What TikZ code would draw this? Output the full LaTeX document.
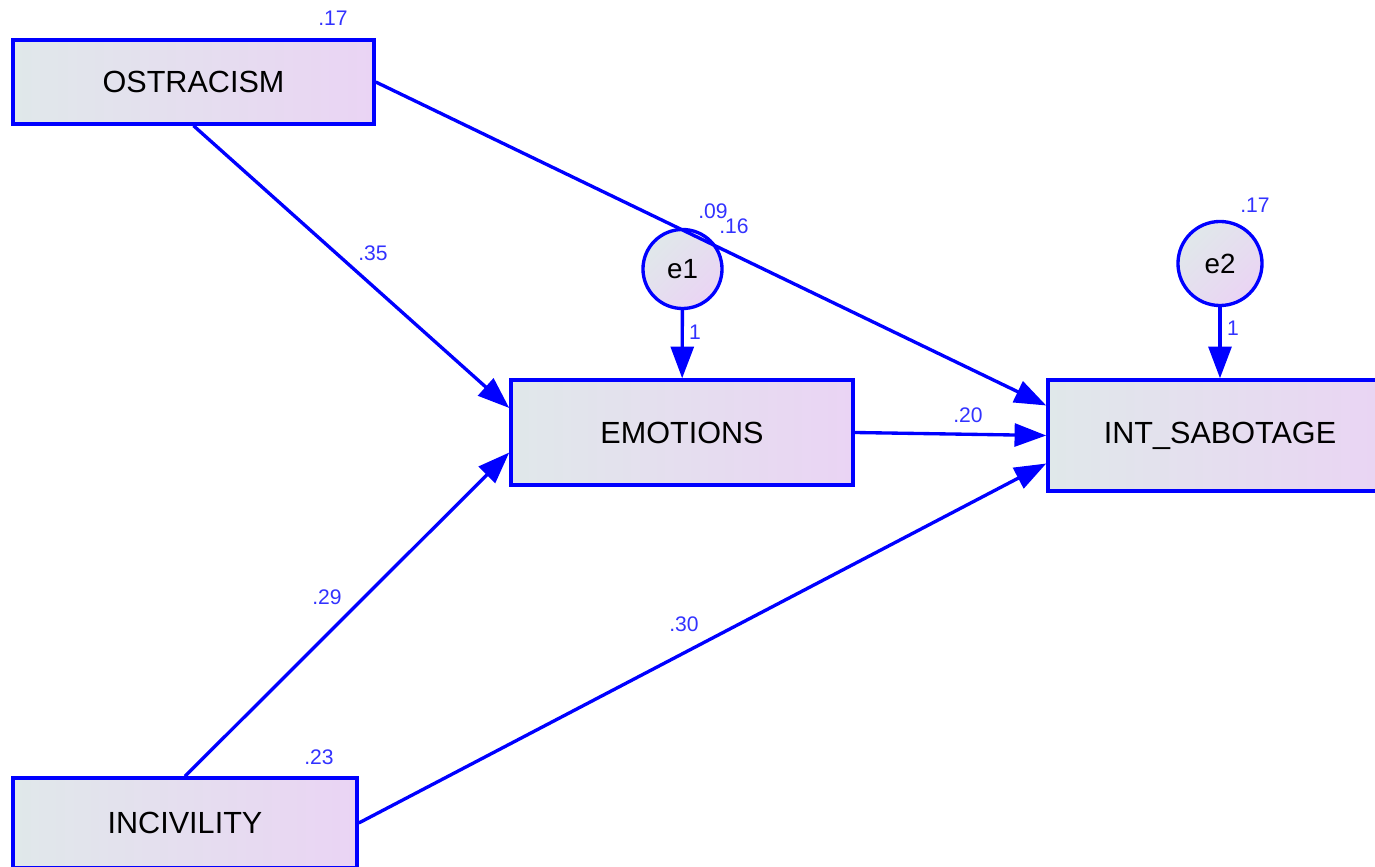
\documentclass[tikz,border=0pt]{standalone}
\usepackage{fontspec}
\setmainfont{Liberation Sans}
\usepackage{tikz}
\usetikzlibrary{arrows.meta}

\definecolor{amosblue}{RGB}{0,0,255}
\definecolor{amoslabel}{RGB}{50,50,255}
\definecolor{boxleft}{RGB}{224,232,234}
\definecolor{boxright}{RGB}{234,212,244}

\tikzset{
  observed/.style={draw=amosblue, line width=0.95pt, left color=boxleft, right color=boxright,
    font=\fontsize{8.7}{10}\selectfont, inner sep=0pt},
  residual/.style={circle, draw=amosblue, line width=0.95pt, left color=boxleft, right color=boxright,
    shading angle=45, font=\fontsize{7.9}{9}\selectfont, inner sep=0pt},
  estimate/.style={text=amoslabel, font=\fontsize{6}{7}\selectfont, inner sep=0pt},
  regress/.style={-{Triangle[length=9pt,width=6.5pt]}, draw=amosblue, line width=0.95pt},
}

\begin{document}
\begin{tikzpicture}[x=0.01cm, y=-0.01cm]
\useasboundingbox (0,0) rectangle (1375,867);
\clip (0,0) rectangle (1375,867);

% observed variables
\node[observed, minimum width=3.61cm, minimum height=0.84cm] (ostr) at (193.5,82) {OSTRACISM};
\node[observed, minimum width=3.42cm, minimum height=1.05cm] (emo) at (682,432.5) {EMOTIONS};
\node[observed, minimum width=3.44cm, minimum height=1.11cm] (sab) at (1220,435.5) {INT\_SABOTAGE};
\node[observed, minimum width=3.44cm, minimum height=0.90cm] (inciv) at (185,823) {INCIVILITY};

% error terms
\node[residual, minimum size=0.79cm] (e1) at (682.5,269) {e1};
\node[residual, minimum size=0.84cm] (e2) at (1220,263.5) {e2};

% paths
\draw[regress] (ostr.south) -- ([yshift=0.245cm]emo.west);
\draw[regress] (ostr.east) -- ([yshift=0.30cm]sab.west);
\draw[regress] (inciv.north) -- ([yshift=-0.2cm]emo.west);
\draw[regress] (inciv.east) -- ([yshift=-0.28cm]sab.west);
\draw[regress] (emo.east) -- (sab.west);
\draw[regress] (e1) -- (emo);
\draw[regress] (e2) -- (sab);

% estimates
\node[estimate] (r-ostr) at (333,18) {.17};
\node[estimate] (r-inciv) at (319,757) {.23};
\node[estimate] (r-emo) at (734,226) {.16};
\node[estimate] (r-sab) at (1255,205) {.17};
\node[estimate] (b-oe) at (373,253) {.35};
\node[estimate] (b-os) at (713,211) {.09};
\node[estimate] (b-ie) at (327,597) {.29};
\node[estimate] (b-is) at (684,624) {.30};
\node[estimate] (b-es) at (968,415) {.20};
\node[estimate] (w-e1) at (695,332) {1};
\node[estimate] (w-e2) at (1233,328) {1};
\end{tikzpicture}
\end{document}
